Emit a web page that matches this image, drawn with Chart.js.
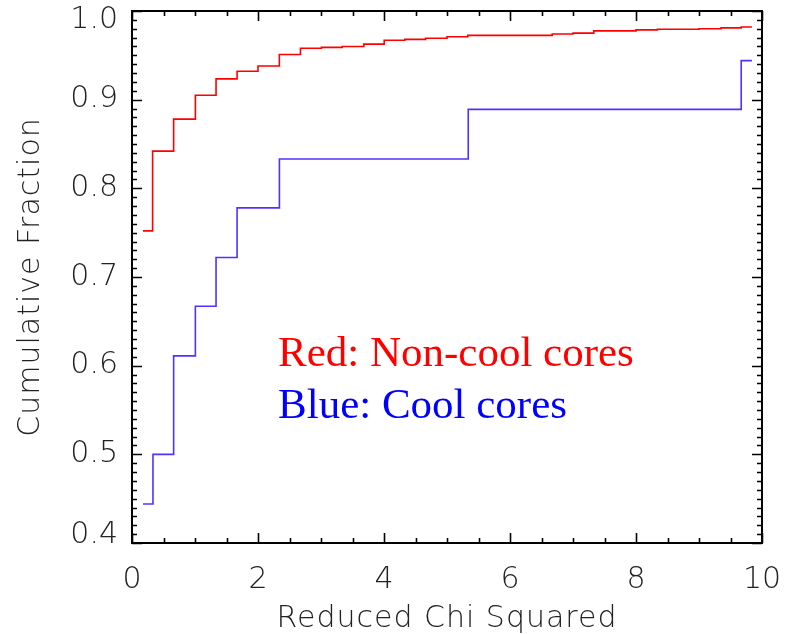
<!DOCTYPE html>
<html>
<head>
<meta charset="utf-8">
<script src="https://cdn.jsdelivr.net/npm/chart.js@4.4.0/dist/chart.umd.min.js"></script>
<style>
  html, body { margin: 0; padding: 0; background: #fff; }
  canvas { display: block; }
</style>
</head>
<body>
<canvas id="cdf" width="793" height="634"></canvas>
<script>
// --- données ---
// abscisses des marches (chi2 réduit), la dernière valeur = fin du tracé
const redX = [0.175, 0.327, 0.661, 1.006, 1.334, 1.668, 2.0, 2.339, 2.674, 3.007, 3.336, 3.68, 4.003,
              4.33, 4.66, 5.0, 5.33, 6.67, 7.0, 7.33, 8.0, 8.34, 9.0, 9.35, 9.67, 9.84];
const redY = [0.752, 0.842, 0.878, 0.905, 0.9235, 0.932, 0.938, 0.951, 0.958, 0.959, 0.960, 0.9626, 0.967,
              0.968, 0.9693, 0.971, 0.9725, 0.974, 0.975, 0.9776, 0.9787, 0.9795, 0.980, 0.981, 0.982, 0.982];

const blueX = [0.175, 0.333, 0.661, 1.006, 1.334, 1.668, 2.34, 5.337, 9.67, 9.84];
const blueY = [0.444, 0.500, 0.611, 0.667, 0.722, 0.778, 0.833, 0.889, 0.944, 0.944];

const xTicks = [0, 2, 4, 6, 8, 10];
const yTicks = [0.4, 0.5, 0.6, 0.7, 0.8, 0.9, 1.0];

const toPoints = (xs, ys) => xs.map((x, i) => ({ x: x, y: ys[i] }));

const axisFont = '200 30px "DejaVu Sans", sans-serif';
const noteFont = '43px "Liberation Serif", "Times New Roman", serif';

// cadre, graduations intérieures, étiquettes et titres façon IDL
const idlAxes = {
  id: 'idlAxes',
  afterDraw(chart) {
    const ctx = chart.ctx;
    const xs = chart.scales.x, ys = chart.scales.y;
    const a = chart.chartArea;
    ctx.save();
    ctx.strokeStyle = '#000';
    ctx.lineWidth = 2;
    ctx.strokeRect(a.left, a.top, a.right - a.left, a.bottom - a.top);

    ctx.lineWidth = 1.6;
    ctx.beginPath();
    // x : majeures tous les 2, mineures tous les 0.5
    for (let v = 0; v <= 10.001; v += 0.5) {
      const px = Math.round(xs.getPixelForValue(v)) + 0.5;
      const len = Math.abs(v / 2 - Math.round(v / 2)) < 1e-6 ? 10 : 5;
      ctx.moveTo(px, a.bottom); ctx.lineTo(px, a.bottom - len);
      ctx.moveTo(px, a.top); ctx.lineTo(px, a.top + len);
    }
    // y : majeures tous les 0.1, mineures tous les 0.01
    for (let k = 40; k <= 100; k++) {
      const py = Math.round(ys.getPixelForValue(k / 100)) + 0.5;
      const len = k % 10 === 0 ? 10 : 5;
      ctx.moveTo(a.left, py); ctx.lineTo(a.left + len, py);
      ctx.moveTo(a.right, py); ctx.lineTo(a.right - len, py);
    }
    ctx.stroke();

    ctx.fillStyle = '#222';
    ctx.font = axisFont;
    ctx.textAlign = 'center';
    ctx.textBaseline = 'middle';
    xTicks.forEach(v => ctx.fillText(String(v), xs.getPixelForValue(v), a.bottom + 37));

    ctx.textAlign = 'right';
    yTicks.forEach(v => {
      let py = ys.getPixelForValue(v);
      py = Math.min(Math.max(py, a.top + 9), a.bottom - 8);
      ctx.fillText(v.toFixed(1), a.left - 14, py);
    });

    ctx.textAlign = 'center';
    ctx.letterSpacing = '1px';
    ctx.fillText('Reduced Chi Squared', (a.left + a.right) / 2, 619);
    ctx.save();
    ctx.translate(31, (a.top + a.bottom) / 2);
    ctx.rotate(-Math.PI / 2);
    ctx.fillText('Cumulative Fraction', 0, 0);
    ctx.restore();
    ctx.letterSpacing = '0px';

    ctx.font = noteFont;
    ctx.textAlign = 'left';
    ctx.textBaseline = 'alphabetic';
    ctx.fillStyle = '#ff0000';
    ctx.fillText('Red: Non-cool cores', 278, 366);
    ctx.fillStyle = '#0000ff';
    ctx.fillText('Blue: Cool cores', 278, 418);
    ctx.restore();
  }
};

new Chart(document.getElementById('cdf'), {
  type: 'line',
  data: {
    datasets: [
      {
        label: 'Non-cool cores',
        data: toPoints(redX, redY),
        borderColor: '#ff0000',
        borderWidth: 1.6,
        stepped: 'before',
        pointRadius: 0,
        fill: false
      },
      {
        label: 'Cool cores',
        data: toPoints(blueX, blueY),
        borderColor: 'rgb(80, 50, 255)',
        borderWidth: 1.6,
        stepped: 'before',
        pointRadius: 0,
        fill: false
      }
    ]
  },
  options: {
    responsive: false,
    animation: false,
    layout: { padding: { top: 11, right: 31, bottom: 0, left: 0 } },
    plugins: { legend: { display: false }, tooltip: { enabled: false } },
    scales: {
      x: {
        type: 'linear', min: 0, max: 10,
        ticks: { display: false, stepSize: 2 },
        grid: { display: false }, border: { display: false },
        afterFit: s => { s.height = 91; }
      },
      y: {
        min: 0.4, max: 1.0,
        ticks: { display: false, stepSize: 0.1 },
        grid: { display: false }, border: { display: false },
        afterFit: s => { s.width = 132; }
      }
    }
  },
  plugins: [idlAxes]
});
</script>
</body>
</html>
